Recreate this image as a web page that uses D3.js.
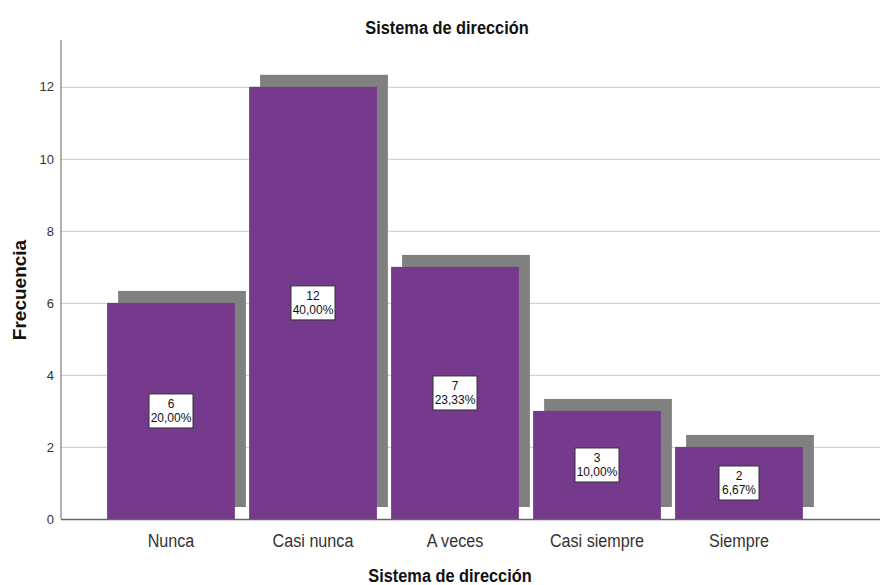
<!DOCTYPE html>
<html>
<head>
<meta charset="utf-8">
<script src="https://cdn.jsdelivr.net/npm/d3@7"></script>
<style>
  body { margin: 0; background: #fff; }
  svg { display: block; font-family: "Liberation Sans", Arial, sans-serif; }
</style>
</head>
<body>
<svg id="chart" width="880" height="585"></svg>
<script>
const categories = ["Nunca", "Casi nunca", "A veces", "Casi siempre", "Siempre"];
const counts = [6, 12, 7, 3, 2];
const percents = ["20,00%", "40,00%", "23,33%", "10,00%", "6,67%"];
const yTicks = [0, 2, 4, 6, 8, 10, 12];
const chartTitle = "Sistema de dirección";
const xTitle = "Sistema de dirección";
const yTitle = "Frecuencia";

const svg = d3.select("#chart");
const W = 880, H = 585;
const axisX = 61, axisY = 519, topY = 40;

const y = d3.scaleLinear().domain([0, 13.3]).range([axisY, topY]);
const x = d3.scaleBand().domain(categories).range([100, 810]).paddingInner(0.1).paddingOuter(0.05);

const purple = "#763A8D";
const shadow = "#808080";

// gridlines
svg.append("g").selectAll("line").data(yTicks.filter(d => d > 0)).join("line")
  .attr("x1", axisX).attr("x2", W)
  .attr("y1", d => y(d) + 0.5).attr("y2", d => y(d) + 0.5)
  .attr("stroke", "#d4d4d4").attr("stroke-width", 1.2);

// shadows
const dx = 11, dy = -12;
svg.append("g").selectAll("rect").data(counts).join("rect")
  .attr("x", (d, i) => x(categories[i]) + dx)
  .attr("y", d => y(d) + dy)
  .attr("width", x.bandwidth())
  .attr("height", d => y(0) - y(d))
  .attr("fill", shadow);

// bars
svg.append("g").selectAll("rect").data(counts).join("rect")
  .attr("x", (d, i) => x(categories[i]))
  .attr("y", d => y(d))
  .attr("width", x.bandwidth())
  .attr("height", d => y(0) - y(d))
  .attr("fill", purple);

// y axis
const yAxis = svg.append("g").attr("transform", `translate(${axisX},0)`)
  .call(d3.axisLeft(y).tickValues(yTicks).tickSize(0).tickPadding(7).tickFormat(d3.format("d")));
yAxis.select(".domain").attr("stroke", "#999").attr("stroke-width", 1.5)
  .attr("d", `M0,${topY}V${axisY}`);
yAxis.selectAll("text").attr("font-size", 13).attr("fill", "#333")
  .attr("font-family", "Liberation Sans, Arial, sans-serif");

// x axis
const xAxis = svg.append("g").attr("transform", `translate(0,${axisY})`)
  .call(d3.axisBottom(x).tickSize(0).tickPadding(0));
xAxis.select(".domain").attr("stroke", "#666").attr("stroke-width", 1.3)
  .attr("d", `M${axisX},0.5H${W}`);
xAxis.selectAll("text").attr("font-size", 19).attr("fill", "#333")
  .attr("dy", null).attr("y", 28)
  .attr("transform", "scale(0.85,1)")
  .attr("font-family", "Liberation Sans, Arial, sans-serif");

// value labels
const lab = svg.append("g").selectAll("g").data(counts).join("g")
  .attr("transform", (d, i) => `translate(${x(categories[i]) + x.bandwidth() / 2},${(y(d) + y(0)) / 2})`);
lab.append("rect")
  .attr("x", (d, i) => i === 4 ? -20 : -22).attr("y", -17)
  .attr("width", (d, i) => i === 4 ? 40 : 44).attr("height", 34)
  .attr("fill", "#fff").attr("stroke", "#333").attr("stroke-width", 1);
lab.append("text").attr("text-anchor", "middle").attr("y", -3)
  .attr("font-size", 12).attr("fill", "#111").text(d => d);
lab.append("text").attr("text-anchor", "middle").attr("y", 11)
  .attr("font-size", 12).attr("fill", "#111").text((d, i) => percents[i]);

// titles
svg.append("g").attr("transform", "translate(447,34)")
  .append("text").attr("text-anchor", "middle").attr("font-weight", "bold")
  .attr("font-size", 19).attr("transform", "scale(0.86,1)").attr("fill", "#111")
  .text(chartTitle);
svg.append("g").attr("transform", "translate(450,582)")
  .append("text").attr("text-anchor", "middle").attr("font-weight", "bold")
  .attr("font-size", 19).attr("transform", "scale(0.86,1)").attr("fill", "#111")
  .text(xTitle);
svg.append("text").attr("transform", "translate(26,290) rotate(-90)")
  .attr("text-anchor", "middle").attr("font-weight", "bold")
  .attr("font-size", 19).attr("fill", "#111").text(yTitle);
</script>
</body>
</html>
